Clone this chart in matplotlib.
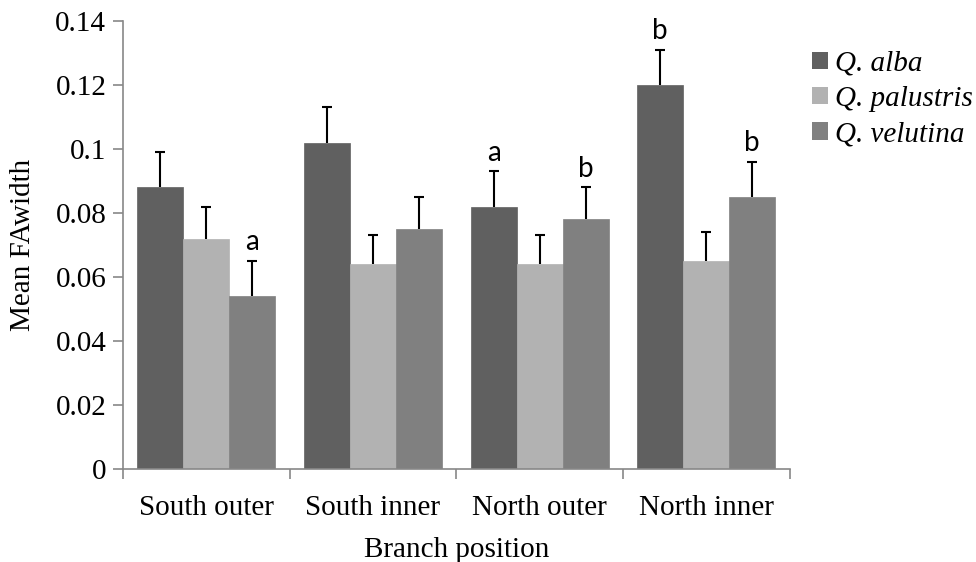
import numpy as np
import matplotlib.pyplot as plt
from matplotlib.ticker import FuncFormatter, FixedLocator

positions = ["South outer", "South inner", "North outer", "North inner"]
species = ["Q. alba", "Q. palustris", "Q. velutina"]

alba = [0.088, 0.102, 0.082, 0.120]
palustris = [0.072, 0.064, 0.064, 0.065]
velutina = [0.054, 0.075, 0.078, 0.085]

alba_err = [0.011, 0.011, 0.011, 0.011]
palustris_err = [0.010, 0.009, 0.009, 0.009]
velutina_err = [0.011, 0.010, 0.010, 0.011]

alba_letters = ["", "", "a", "b"]
palustris_letters = ["", "", "", ""]
velutina_letters = ["a", "", "b", "b"]

colors = ["#606060", "#b2b2b2", "#808080"]


def main():
    plt.rcParams["font.family"] = "Liberation Serif"
    fig, ax = plt.subplots(figsize=(9.76, 5.62), dpi=100)
    fig.subplots_adjust(left=0.126, right=0.809, bottom=0.1655, top=0.9626)

    x = np.arange(len(positions))
    width = 0.276
    series = [
        (alba, alba_err, alba_letters),
        (palustris, palustris_err, palustris_letters),
        (velutina, velutina_err, velutina_letters),
    ]
    for idx, (vals, errs, letters) in enumerate(series):
        xs = x + (idx - 1) * width
        ax.bar(xs, vals, width, color=colors[idx], label=species[idx],
               edgecolor=colors[idx], linewidth=0.5, zorder=2)
        # upper half of the error bar only
        _, caps, _ = ax.errorbar(xs, vals, yerr=[np.zeros(len(vals)), errs],
                                 fmt="none", ecolor="black", elinewidth=1.5,
                                 capsize=3.6, capthick=1.5, zorder=3)
        caps[0].set_visible(False)
        for xi, v, e, letter in zip(xs, vals, errs, letters):
            if letter:
                ax.text(xi, v + e + 0.0018, letter, ha="center", va="bottom",
                        fontsize=20, family="Lato")

    ax.set_xlim(-0.5, len(positions) - 0.5)
    ax.set_ylim(0, 0.14)
    ax.set_yticks(np.arange(0, 0.141, 0.02))
    ax.yaxis.set_major_formatter(FuncFormatter(lambda v, _: f"{round(v, 2):g}"))
    ax.set_xticks(x)
    ax.set_xticklabels(positions)
    ax.xaxis.set_minor_locator(FixedLocator(np.arange(-0.5, len(positions), 1.0)))
    ax.tick_params(axis="x", which="major", length=0, pad=19, labelsize=21)
    ax.tick_params(axis="x", which="minor", length=7, width=1.2, color="#888888")
    ax.tick_params(axis="y", length=7, width=1.2, color="#888888",
                   labelsize=21, pad=5)

    for side in ["top", "right"]:
        ax.spines[side].set_visible(False)
    for side in ["left", "bottom"]:
        ax.spines[side].set_color("#888888")
        ax.spines[side].set_linewidth(1.2)

    ax.set_ylabel("Mean FAwidth", fontsize=21, labelpad=14)
    ax.set_xlabel("Branch position", fontsize=21, labelpad=11)

    leg = ax.legend(loc="upper left", bbox_to_anchor=(1.008, 0.973), frameon=False,
                    prop={"family": "Liberation Serif", "style": "italic",
                          "size": 21},
                    handlelength=0.55, handleheight=0.55, handletextpad=0.22,
                    labelspacing=0.32, borderaxespad=0.2)
    for handle in leg.legend_handles:
        handle.set_linewidth(0)

    plt.savefig("out.png")
    plt.close()


if __name__ == "__main__":
    main()
